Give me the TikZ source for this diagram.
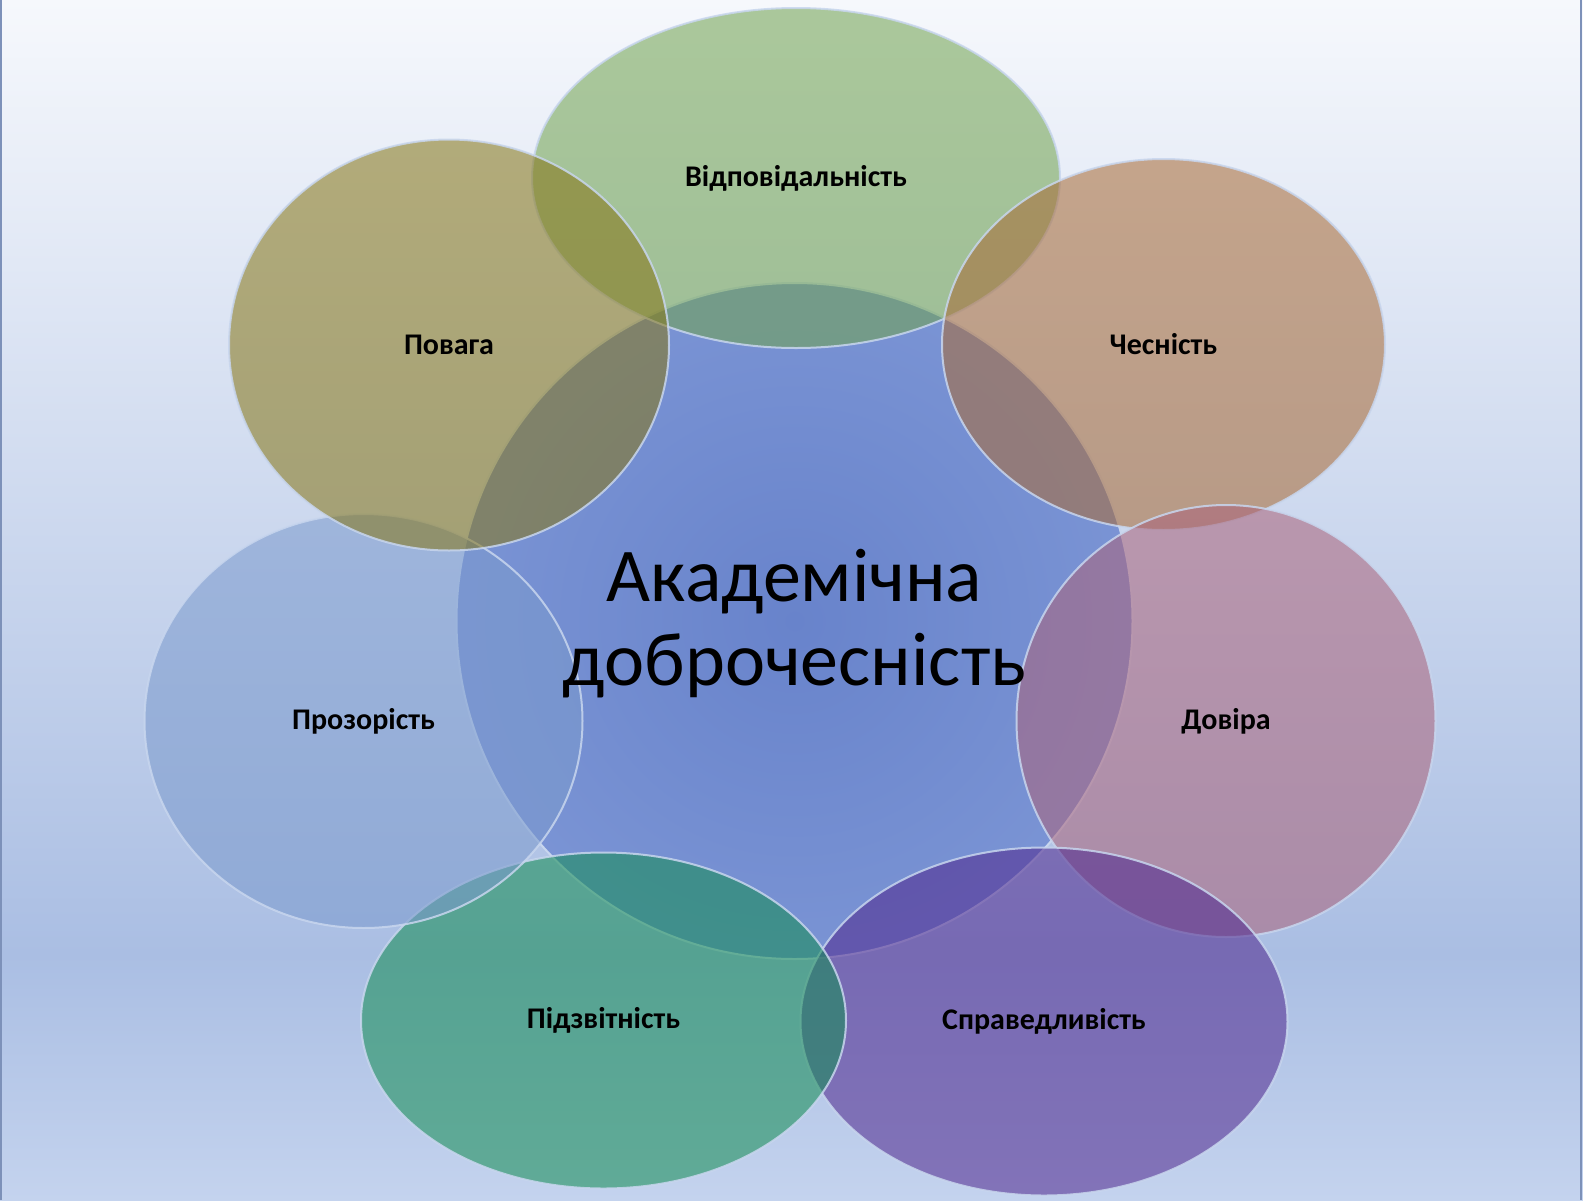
\documentclass[tikz,border=0pt]{standalone}
\usepackage{fontspec}
\setmainfont{Carlito}
\usepackage{tikz}
\usetikzlibrary{shapes.geometric}

\definecolor{bgtop}{RGB}{246,248,252}
\definecolor{bgmid}{RGB}{170,190,227}
\definecolor{bgbot}{RGB}{196,211,238}
\definecolor{hubin}{RGB}{104,131,203}
\definecolor{hubout}{RGB}{140,164,221}
\definecolor{rim}{RGB}{200,214,238}
\definecolor{frame}{RGB}{125,145,185}
\definecolor{cGreen}{RGB}{113,163,80}
\definecolor{cOlive}{RGB}{134,118,24}
\definecolor{cTan}{RGB}{168,107,55}
\definecolor{cSky}{RGB}{123,154,205}
\definecolor{cPink}{RGB}{170,100,123}
\definecolor{cTeal}{RGB}{20,141,84}
\definecolor{cPurple}{RGB}{80,41,143}

\pgfdeclareradialshading{hub}{\pgfpoint{0bp}{0bp}}{color(0bp)=(hubin); color(50bp)=(hubout)}

\begin{document}
\begin{tikzpicture}[x=1pt,y=-1pt,
  petal/.style={ellipse,inner sep=0pt,draw=rim,line width=2pt,draw opacity=0.85,
    fill opacity=0.56,text opacity=1,font=\fontsize{30}{34}\selectfont\bfseries},
  hubtext/.style={align=center,font=\fontsize{76}{84}\selectfont}]

\useasboundingbox (0,0) rectangle (1583,1200);
\shade[top color=bgtop,bottom color=bgmid] (0,0) rectangle (1583,955);
\shade[top color=bgmid,bottom color=bgbot] (0,955) rectangle (1583,1200);
\draw[frame,line width=2pt] (1,0)--(1,1200);
\draw[frame,line width=2pt] (1581,0)--(1581,1200);

\node[circle,minimum size=676pt,inner sep=0pt,shading=hub,draw=rim,line width=2pt] (hub) at (794.5,621) {};

\node[petal,fill=cGreen,minimum width=528pt,minimum height=340pt] (resp) at (796,178) {Відповідальність};
\node[petal,fill=cTan,minimum width=443pt,minimum height=371pt] (honest) at (1163.5,344.5) {Чесність};
\node[petal,fill=cPink,minimum width=419pt,minimum height=432pt] (trust) at (1226,721) {Довіра};
\node[petal,fill=cPurple,minimum width=487pt,minimum height=348pt] (fair) at (1044,1021.5) {Справедливість};
\node[petal,fill=cTeal,minimum width=485pt,minimum height=336pt] (account) at (603.5,1020.5) {Підзвітність};
\node[petal,fill=cSky,minimum width=438pt,minimum height=414pt] (transp) at (363.5,721) {Прозорість};
\node[petal,fill=cOlive,minimum width=440pt,minimum height=411pt] (respect) at (449,345) {Повага};

\node[hubtext] (title) at (794.5,624) {Академічна\\доброчесність};
\end{tikzpicture}
\end{document}
